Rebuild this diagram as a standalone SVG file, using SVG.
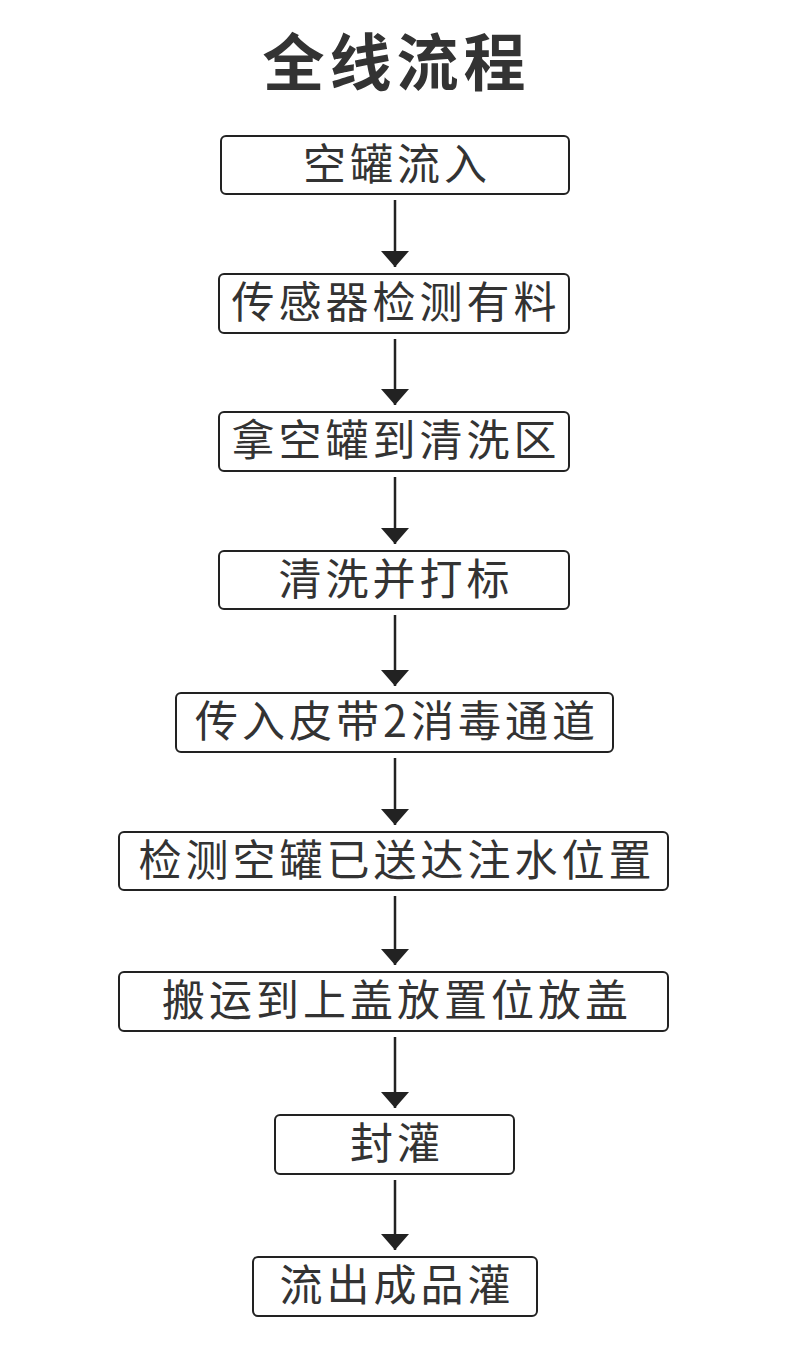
<svg xmlns="http://www.w3.org/2000/svg" width="790" height="1356" viewBox="0 0 790 1356">
<defs>
<style>
.box{fill:#fff;stroke:#222;stroke-width:2}
.lbl{font-family:"Noto Sans CJK SC","Noto Sans",sans-serif;font-size:43px;fill:#333;text-anchor:middle;letter-spacing:4px}
.title{font-family:"Noto Sans CJK SC","Noto Sans",sans-serif;font-size:62px;font-weight:bold;fill:#333;text-anchor:middle;letter-spacing:5px}
.con{stroke:#222;stroke-width:2.5;fill:none;marker-end:url(#ah)}
</style>
<marker id="ah" markerUnits="userSpaceOnUse" markerWidth="18" markerHeight="28" refX="16" refY="14" orient="auto">
<path d="M0,0 L16,14 L0,28 Z" fill="#222"/>
</marker>
</defs>
<rect width="790" height="1356" fill="#fff"/>
<text class="title" x="396.5" y="86">全线流程</text>
<g id="connectors">
<line class="con" x1="395" y1="200" x2="395" y2="267"/>
<line class="con" x1="395" y1="339" x2="395" y2="405"/>
<line class="con" x1="395" y1="477" x2="395" y2="544"/>
<line class="con" x1="395" y1="615" x2="395" y2="686"/>
<line class="con" x1="395" y1="758" x2="395" y2="825"/>
<line class="con" x1="395" y1="896" x2="395" y2="965"/>
<line class="con" x1="395" y1="1037" x2="395" y2="1108"/>
<line class="con" x1="395" y1="1180" x2="395" y2="1250"/>
</g>
<g id="n1"><rect class="box" x="221" y="136" width="348" height="58" rx="5"/><text class="lbl" x="397" y="180">空罐流入</text></g>
<g id="n2"><rect class="box" x="219" y="274" width="350" height="59" rx="5"/><text class="lbl" x="396" y="318">传感器检测有料</text></g>
<g id="n3"><rect class="box" x="219" y="412" width="350" height="59" rx="5"/><text class="lbl" x="396" y="456">拿空罐到清洗区</text></g>
<g id="n4"><rect class="box" x="219" y="551" width="350" height="58" rx="5"/><text class="lbl" x="396" y="595">清洗并打标</text></g>
<g id="n5"><rect class="box" x="176" y="693" width="437" height="59" rx="5"/><text class="lbl" x="397" y="737">传入皮带2消毒通道</text></g>
<g id="n6"><rect class="box" x="119" y="832" width="549" height="58" rx="5"/><text class="lbl" x="397" y="876">检测空罐已送达注水位置</text></g>
<g id="n7"><rect class="box" x="119" y="972" width="549" height="59" rx="5"/><text class="lbl" x="397" y="1016">搬运到上盖放置位放盖</text></g>
<g id="n8"><rect class="box" x="275" y="1115" width="239" height="59" rx="5"/><text class="lbl" x="397" y="1159">封灌</text></g>
<g id="n9"><rect class="box" x="253" y="1257" width="284" height="59" rx="5"/><text class="lbl" x="397" y="1301">流出成品灌</text></g>
</svg>
